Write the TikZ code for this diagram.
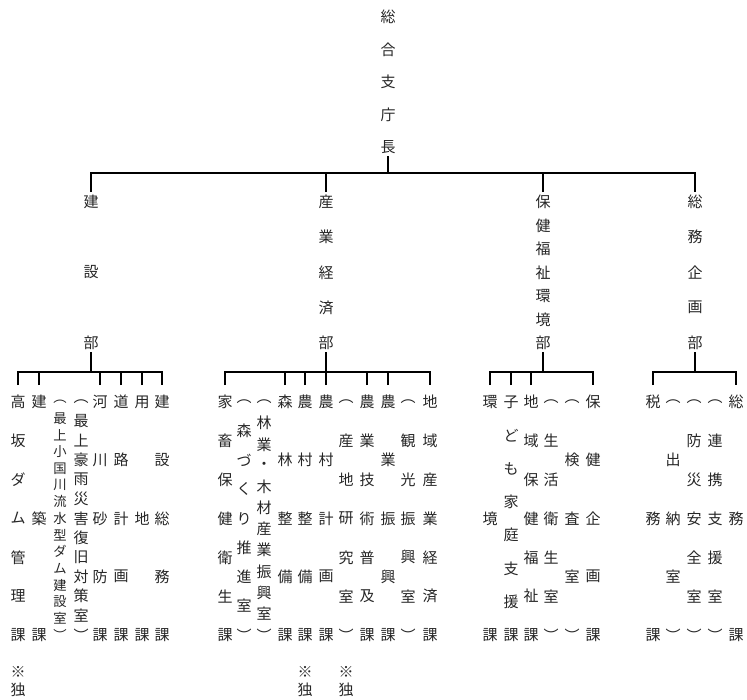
\documentclass[tikz,border=0pt]{standalone}
\usepackage{fontspec}
\newfontfamily\jp{Noto Sans CJK JP}
\usetikzlibrary{calc}
\tikzset{
  ch/.style={inner sep=0pt, text=black!85},
  note/.style={ch, font=\jp\fontsize{15}{15}\selectfont},
  ln/.style={line width=2pt, black}
}
\newcommand\vcol[5]{%
  \foreach[count=\n] \vc in {#5} {\xdef\vN{\n}}%
  \pgfmathsetmacro\vS{(#4-#3)/(\vN-1)}%
  \pgfmathsetmacro\vF{min(15,0.8*\vS)}%
  \foreach[count=\n] \vc in {#5} {%
    \node[ch, font=\jp\fontsize{\vF}{\vF}\selectfont] (#1-\n) at (#2, {#3+(\n-1)*\vS}) {\vc};
  }%
}
\begin{document}
\begin{tikzpicture}[x=1pt, y=-1pt]
\useasboundingbox (0,0) rectangle (747,699);
% top
\vcol{top}{388}{17}{147}{総,合,支,庁,長}
% departments
\vcol{d1}{91}{202}{343}{建,設,部}
\vcol{d2}{326}{202}{343}{産,業,経,済,部}
\vcol{d3}{543}{202}{343}{保,健,福,祉,環,境,部}
\vcol{d4}{695}{202}{343}{総,務,企,画,部}
% group 1
\vcol{g1a}{18}{402}{635}{高,坂,ダ,ム,管,理,課}
\vcol{g1b}{39}{402}{635}{建,築,課}
\vcol{g1c}{60}{402}{635}{︵,最,上,小,国,川,流,水,型,ダ,ム,建,設,室,︶}
\vcol{g1d}{81}{402}{635}{︵,最,上,豪,雨,災,害,復,旧,対,策,室,︶}
\vcol{g1e}{100}{402}{635}{河,川,砂,防,課}
\vcol{g1f}{121}{402}{635}{道,路,計,画,課}
\vcol{g1g}{142}{402}{635}{用,地,課}
\vcol{g1h}{162}{402}{635}{建,設,総,務,課}
% group 2
\vcol{g2a}{225}{402}{635}{家,畜,保,健,衛,生,課}
\vcol{g2b}{244}{402}{635}{︵,森,づ,く,り,推,進,室,︶}
\vcol{g2c}{264}{402}{635}{︵,林,業,・,木,材,産,業,振,興,室,︶}
\vcol{g2d}{285}{402}{635}{森,林,整,備,課}
\vcol{g2e}{305}{402}{635}{農,村,整,備,課}
\vcol{g2f}{326}{402}{635}{農,村,計,画,課}
\vcol{g2g}{346}{402}{635}{︵,産,地,研,究,室,︶}
\vcol{g2h}{367}{402}{635}{農,業,技,術,普,及,課}
\vcol{g2i}{388}{402}{635}{農,業,振,興,課}
\vcol{g2j}{408}{402}{635}{︵,観,光,振,興,室,︶}
\vcol{g2k}{430}{402}{635}{地,域,産,業,経,済,課}
% group 3
\vcol{g3a}{490}{402}{635}{環,境,課}
\vcol{g3b}{511}{402}{635}{子,ど,も,家,庭,支,援,課}
\vcol{g3c}{531}{402}{635}{地,域,保,健,福,祉,課}
\vcol{g3d}{551}{402}{635}{︵,生,活,衛,生,室,︶}
\vcol{g3e}{572}{402}{635}{︵,検,査,室,︶}
\vcol{g3f}{593}{402}{635}{保,健,企,画,課}
% group 4
\vcol{g4a}{653}{402}{635}{税,務,課}
\vcol{g4b}{673}{402}{635}{︵,出,納,室,︶}
\vcol{g4c}{694}{402}{635}{︵,防,災,安,全,室,︶}
\vcol{g4d}{715}{402}{635}{︵,連,携,支,援,室,︶}
\vcol{g4e}{736}{402}{635}{総,務,課}
% notes
\node[note] (n1a) at (18,672) {※};
\node[note] (n1b) at (18,690) {独};
\node[note] (n2a) at (305,672) {※};
\node[note] (n2b) at (305,690) {独};
\node[note] (n3a) at (346,672) {※};
\node[note] (n3b) at (346,690) {独};
% junctions
\coordinate (j0) at (388,173);
\coordinate (j1) at (91,372);
\coordinate (j2) at (326,372);
\coordinate (j3) at (543,372);
\coordinate (j4) at (695,372);
% top level connectors
\draw[ln] ($(top-5)+(0,9)$) -- (j0);
\draw[ln] ($(d1-1)+(0,-10)$) -- (d1-1 |- j0) -- (d4-1 |- j0) -- ($(d4-1)+(0,-10)$);
\foreach \k in {d2,d3} \draw[ln] ($(\k-1)+(0,-10)$) -- (\k-1 |- j0);
% department to sections
\draw[ln] ($(d1-3)+(0,9)$) -- (j1);
\draw[ln] ($(d2-5)+(0,9)$) -- (j2);
\draw[ln] ($(d3-7)+(0,9)$) -- (j3);
\draw[ln] ($(d4-5)+(0,9)$) -- (j4);
% group bars
\draw[ln] ($(g1a-1)+(0,-17)$) -- (g1a-1 |- j1) -- (g1h-1 |- j1) -- ($(g1h-1)+(0,-17)$);
\foreach \k in {g1b,g1e,g1f,g1g} \draw[ln] ($(\k-1)+(0,-17)$) -- (\k-1 |- j1);
\draw[ln] ($(g2a-1)+(0,-17)$) -- (g2a-1 |- j2) -- (g2k-1 |- j2) -- ($(g2k-1)+(0,-17)$);
\foreach \k in {g2d,g2e,g2f,g2h,g2i} \draw[ln] ($(\k-1)+(0,-17)$) -- (\k-1 |- j2);
\draw[ln] ($(g3a-1)+(0,-17)$) -- (g3a-1 |- j3) -- (g3f-1 |- j3) -- ($(g3f-1)+(0,-17)$);
\foreach \k in {g3b,g3c} \draw[ln] ($(\k-1)+(0,-17)$) -- (\k-1 |- j3);
\draw[ln] ($(g4a-1)+(0,-17)$) -- (g4a-1 |- j4) -- (g4e-1 |- j4) -- ($(g4e-1)+(0,-17)$);
\end{tikzpicture}
\end{document}
